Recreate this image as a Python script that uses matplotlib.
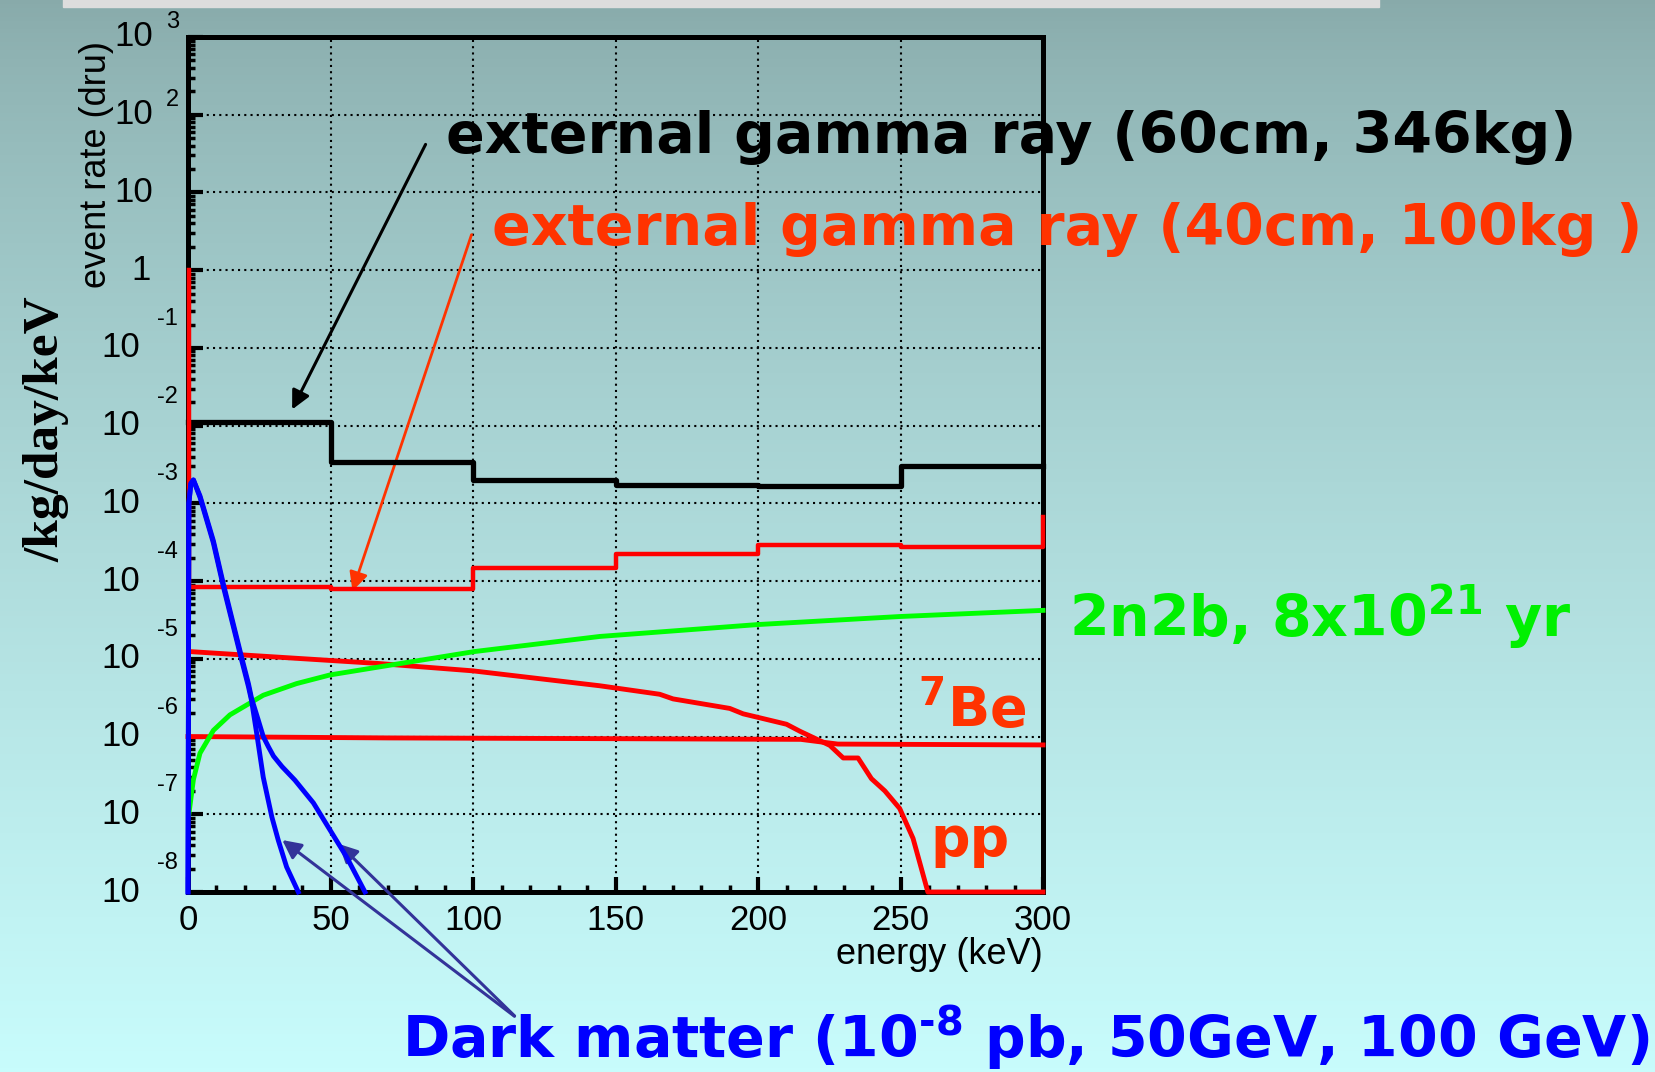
import numpy as np
import matplotlib
matplotlib.use('Agg')
import matplotlib.pyplot as plt
from matplotlib.patches import Rectangle
from matplotlib.ticker import MultipleLocator, LogLocator, NullFormatter
from matplotlib.transforms import offset_copy

plt.rcParams['font.family'] = ['Liberation Sans', 'DejaVu Sans']
plt.rcParams['mathtext.fontset'] = 'custom'
plt.rcParams['mathtext.rm'] = 'DejaVu Sans:bold'
plt.rcParams['mathtext.bf'] = 'DejaVu Sans:bold'
plt.rcParams['mathtext.it'] = 'DejaVu Sans:bold'

# external gamma, 60cm / 346kg (step histogram)
ext60_edges = [0, 50, 100, 150, 200, 250, 300]
ext60_rate = [1.1e-2, 3.4e-3, 2.0e-3, 1.72e-3, 1.69e-3, 3.0e-3]

# external gamma, 40cm / 100kg
ext40_edges = [0.5, 50, 100, 150, 200, 250, 300]
ext40_rate = [8.5e-5, 7.8e-5, 1.48e-4, 2.24e-4, 2.95e-4, 2.77e-4]
ext40_first = 1.0
ext40_last = 6.6e-4

# solar neutrinos
be7_e = [0, 70, 145, 215, 228, 300]
be7_rate = [1.0e-6, 9.6e-7, 9.4e-7, 9.2e-7, 8.0e-7, 7.8e-7]

pp_e = [0.5, 67, 100, 144.5, 165.5, 170.2, 190.1, 194.8, 210, 214.7, 225.2,
        229.9, 235.1, 239.8, 244.5, 249.7, 254.4, 259.6, 300]
pp_rate = [1.24e-5, 8.7e-6, 7.0e-6, 4.5e-6, 3.5e-6, 3.05e-6, 2.3e-6, 1.96e-6,
           1.44e-6, 1.17e-6, 7.7e-7, 5.3e-7, 5.3e-7, 2.87e-7, 2.0e-7, 1.19e-7,
           4.9e-8, 1e-8, 1e-8]

# 2n2b
bb_e = [0.3, 1.9, 4.2, 8.9, 14.7, 26.4, 38.1, 49.8, 67.4, 100.5, 144.5, 200, 249.7, 300]
bb_rate = [1.0e-7, 2.8e-7, 6.1e-7, 1.2e-6, 1.9e-6, 3.4e-6, 4.8e-6, 6.2e-6, 7.9e-6,
           1.24e-5, 1.94e-5, 2.76e-5, 3.5e-5, 4.2e-5]

# dark matter 50 GeV, 100 GeV
dm50_e = [0, 0.3, 1.0, 1.9, 4.2, 8.9, 12.4, 15.9, 18.8, 21.2, 22.3, 24.1, 26.4,
          29.4, 31.7, 34.6, 38.7]
dm50_rate = [1e-8, 1.0e-3, 1.8e-3, 2.0e-3, 1.2e-3, 3.1e-4, 8.5e-5, 2.6e-5, 9.7e-6,
             4.4e-6, 2.9e-6, 1.1e-6, 3.0e-7, 9.3e-8, 4.6e-8, 2.1e-8, 1e-8]
dm100_e = [0, 0.3, 1.0, 1.9, 4.2, 8.9, 12.4, 15.9, 18.8, 21.2, 22.3, 24.5, 26.4,
           28.2, 30.0, 33.0, 37.5, 44.0, 49.8, 55.7, 62.1]
dm100_rate = [1e-8, 1.0e-3, 1.8e-3, 2.0e-3, 1.25e-3, 3.3e-4, 9.2e-5, 2.8e-5, 1.05e-5,
              4.8e-6, 3.1e-6, 1.7e-6, 1.0e-6, 7.4e-7, 5.6e-7, 4.1e-7, 2.75e-7, 1.4e-7,
              6.3e-8, 2.8e-8, 1e-8]

xticks = [0, 50, 100, 150, 200, 250, 300]
ydecades = list(range(-8, 4))

W, H = 1656, 1072


def px(x, y):
    return x / W, 1 - y / H


def step_xy(edges, vals, first=None, last=None):
    xs = list(np.repeat(edges, 2)[1:-1])
    ys = list(np.repeat(vals, 2))
    if first is not None:
        xs = [edges[0]] + xs
        ys = [first] + ys
    if last is not None:
        xs = xs + [edges[-1]]
        ys = ys + [last]
    return xs, ys


fig = plt.figure(figsize=(W / 100, H / 100), dpi=100)

# background gradient
bg = fig.add_axes([0, 0, 1, 1], zorder=-10)
t = np.linspace(0, 1, 256)[:, None, None] ** 0.75
top = np.array([0x88, 0xaa, 0xaa]) / 255
bot = np.array([0xc8, 0xfc, 0xfc]) / 255
bg.imshow(top + (bot - top) * t, aspect='auto', extent=[0, 1, 0, 1])
bg.add_patch(Rectangle(px(63, 7), (1379 - 63) / W, 0.02, color='#dddddd'))
bg.set_xlim(0, 1)
bg.set_ylim(0, 1)
bg.axis('off')

ax = fig.add_axes([188 / W, 1 - 892 / H, 855 / W, 855 / H])
ax.set_facecolor('none')
ax.set_yscale('log')
ax.set_xlim(0, 300)
ax.set_ylim(1e-8, 1e3)

lw = 3.5
x, y = step_xy(ext60_edges, ext60_rate)
ax.plot(x, y, color='black', lw=3.8, clip_on=False, zorder=4)
x, y = step_xy(ext40_edges, ext40_rate, ext40_first, ext40_last)
ax.plot(x, y, color='#ff0000', lw=3.2, clip_on=False, zorder=4)
ax.plot(be7_e, be7_rate, color='#ff0000', lw=lw, clip_on=False, zorder=4)
ax.plot(pp_e, pp_rate, color='#ff0000', lw=lw, clip_on=False, zorder=4)
ax.plot(bb_e, bb_rate, color='#00ff00', lw=lw, clip_on=False, zorder=4)
ax.plot(dm50_e, dm50_rate, color='#0000ff', lw=lw, clip_on=False, zorder=4)
ax.plot(dm100_e, dm100_rate, color='#0000ff', lw=lw, clip_on=False, zorder=4)

ax.set_xticks(xticks)
ax.xaxis.set_minor_locator(MultipleLocator(10))
ax.yaxis.set_major_locator(LogLocator(base=10, numticks=20))
ax.yaxis.set_minor_locator(LogLocator(base=10, subs=np.arange(2, 10), numticks=20))
ax.yaxis.set_major_formatter(NullFormatter())
ax.yaxis.set_minor_formatter(NullFormatter())
ax.tick_params(which='both', direction='in', top=False, right=False)
ax.tick_params(which='major', length=11, width=3)
ax.tick_params(which='minor', length=5, width=2.5)
ax.tick_params(axis='x', labelsize=25, pad=9)
ax.grid(True, which='major', color='black', linestyle=(0, (1, 2)), lw=1.5)
ax.set_axisbelow(True)
for s in ax.spines.values():
    s.set_linewidth(3.6)

# y tick labels drawn in the old "10 with exponent" style
ytr = ax.get_yaxis_transform()
for k in ydecades:
    v = 10.0 ** k
    if k >= 2:
        ax.text(0, v, '10', transform=offset_copy(ytr, fig=fig, x=-35, y=0, units='dots'),
                ha='right', va='center', fontsize=25)
        ax.text(0, v, str(k), transform=offset_copy(ytr, fig=fig, x=-22, y=15, units='dots'),
                ha='left', va='center', fontsize=17)
    elif k == 1:
        ax.text(0, v, '10', transform=offset_copy(ytr, fig=fig, x=-35, y=0, units='dots'),
                ha='right', va='center', fontsize=25)
    elif k == 0:
        ax.text(0, v, '1', transform=offset_copy(ytr, fig=fig, x=-37, y=0, units='dots'),
                ha='right', va='center', fontsize=25)
    else:
        ax.text(0, v, '10', transform=offset_copy(ytr, fig=fig, x=-48, y=0, units='dots'),
                ha='right', va='center', fontsize=25)
        ax.text(0, v, str(k), transform=offset_copy(ytr, fig=fig, x=-10, y=29, units='dots'),
                ha='right', va='center', fontsize=17)

fig.text(*px(97, 164), 'event rate (dru)', rotation=90, ha='center', va='center', fontsize=26)
fig.text(*px(47, 429), '/kg/day/keV', rotation=90, ha='center', va='center', fontsize=37,
         family='Liberation Serif', weight='bold')
fig.text(*px(1043, 955), 'energy (keV)', ha='right', va='center', fontsize=26)

big = dict(family='DejaVu Sans', weight='bold', ha='left', va='baseline')
fig.text(*px(446, 153), 'external gamma ray (60cm, 346kg)', color='black', fontsize=41, **big)
fig.text(*px(492, 245), 'external gamma ray (40cm, 100kg )', color='#ff3300', fontsize=41, **big)
fig.text(*px(1069, 637), r'2n2b, 8x10$^{21}$ yr', color='#00f000', fontsize=41, **big)
fig.text(*px(918, 726), r'$^{7}$Be', color='#ff3300', fontsize=40, **big)
fig.text(*px(930, 856), 'pp', color='#ff3300', fontsize=40, **big)
fig.text(*px(402, 1058), 'Dark matter (10$^{\u20108}$ pb, 50GeV, 100 GeV)', color='#0000ff',
         fontsize=41, **big)

# arrows from the labels to the curves
ax.annotate('', xy=(36.1, 1.5e-2), xytext=(83.8, 44.7),
            arrowprops=dict(arrowstyle='-|>', color='black', lw=2.2, mutation_scale=28))
ax.annotate('', xy=(57.4, 6.9e-5), xytext=(99.8, 3.1),
            arrowprops=dict(arrowstyle='-|>', color='#ff3300', lw=2.0, mutation_scale=28))
for tip in [(32.3, 4.9e-8), (52.2, 4.4e-8)]:
    ax.annotate('', xy=tip, xytext=(115.3, 2.4e-10), annotation_clip=False,
                arrowprops=dict(arrowstyle='-|>', color='#333399', lw=2.2, mutation_scale=28))

fig.savefig('out.png', dpi=100)
